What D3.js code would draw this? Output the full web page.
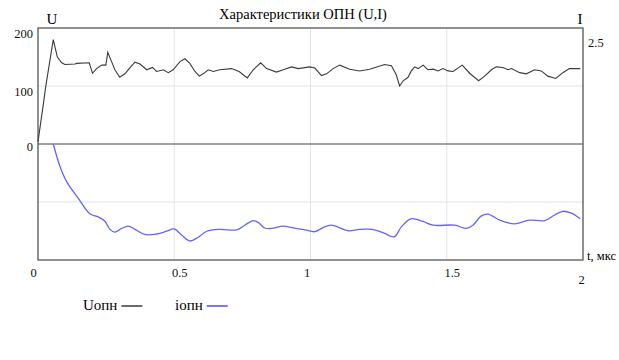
<!DOCTYPE html>
<html><head><meta charset="utf-8">
<script src="https://cdn.jsdelivr.net/npm/d3@7"></script>
<style>
body{margin:0;background:#fff;}
text{font-family:"Liberation Serif","Times New Roman",serif;}
</style></head>
<body><svg id="c" width="619" height="360"></svg>
<script>
const uT = [0,0.02,0.028,0.056,0.071,0.087,0.099,0.136,0.142,0.188,0.2,0.215,0.234,0.249,0.256,0.27,0.282,0.3,0.319,0.34,0.356,0.374,0.399,0.42,0.435,0.46,0.478,0.496,0.521,0.539,0.557,0.576,0.592,0.606,0.625,0.643,0.667,0.71,0.738,0.768,0.79,0.817,0.839,0.875,0.9,0.93,0.955,0.997,1.016,1.04,1.059,1.083,1.107,1.144,1.18,1.217,1.272,1.297,1.315,1.327,1.34,1.358,1.37,1.382,1.395,1.413,1.431,1.45,1.468,1.486,1.505,1.523,1.557,1.584,1.617,1.639,1.664,1.682,1.706,1.725,1.737,1.768,1.792,1.822,1.847,1.871,1.9,1.926,1.95,1.99];
const uV = [4,70,98,180,150,140,137,138,139,140,122,130,136,136,158,142,128,115,121,133,141,138,128,132,125,128,123,128,142,147,139,125,117,121,128,125,128,130,125,114,128,140,130,124,128,133,130,133,131,118,121,130,136,129,126,129,137,135,119,100,109,115,126,133,130,136,128,129,126,130,126,125,136,122,109,117,128,133,132,128,130,123,121,128,126,117,113,123,130,130];
const iT = [0.056,0.081,0.105,0.148,0.191,0.221,0.246,0.264,0.282,0.307,0.331,0.356,0.392,0.435,0.472,0.499,0.527,0.557,0.588,0.619,0.667,0.729,0.759,0.79,0.808,0.832,0.857,0.9,0.936,0.979,1.016,1.046,1.077,1.138,1.18,1.224,1.266,1.307,1.334,1.37,1.413,1.45,1.529,1.572,1.596,1.627,1.651,1.694,1.749,1.804,1.859,1.896,1.926,1.957,1.99];
const iV = [0,-0.49,-0.81,-1.17,-1.51,-1.57,-1.67,-1.84,-1.90,-1.82,-1.77,-1.84,-1.95,-1.94,-1.88,-1.83,-1.96,-2.09,-2.01,-1.88,-1.84,-1.85,-1.75,-1.65,-1.69,-1.81,-1.82,-1.77,-1.81,-1.85,-1.89,-1.80,-1.75,-1.87,-1.84,-1.84,-1.91,-2.0,-1.78,-1.61,-1.67,-1.75,-1.75,-1.82,-1.75,-1.55,-1.51,-1.64,-1.72,-1.64,-1.65,-1.53,-1.45,-1.49,-1.61];
const xTicks = [0,0.5,1,1.5,2];
const xTickLabels = ["0","0.5","1","1.5","2"];
const uTicks = [0,100,200];
const iTicks = [2.5];
const title = "Характеристики ОПН (U,I)";
const legendLabels = ["Uопн","iопн"];

const svg = d3.select("#c");
const L=38, R=583, T=28, B=260;
const x = d3.scaleLinear().domain([0,2]).range([L,R]);
const yU = d3.scaleLinear().domain([-200,200]).range([B,T]);
const yI = d3.scaleLinear().domain([-2.5,2.5]).range([B,T]);

// grid
const g = svg.append("g");
g.selectAll("line.vx").data([0.5,1,1.5]).join("line")
 .attr("x1",d=>x(d)).attr("x2",d=>x(d)).attr("y1",T).attr("y2",B)
 .attr("stroke","#e3e3e3").attr("stroke-width",1);
g.selectAll("line.hy").data([100,-100]).join("line")
 .attr("x1",L).attr("x2",R).attr("y1",d=>yU(d)).attr("y2",d=>yU(d))
 .attr("stroke","#e3e3e3").attr("stroke-width",1);
g.append("line").attr("x1",L).attr("x2",R).attr("y1",yU(0)).attr("y2",yU(0))
 .attr("stroke","#444").attr("stroke-width",1);
svg.append("rect").attr("x",L).attr("y",T).attr("width",R-L).attr("height",B-T)
 .attr("fill","none").attr("stroke","#555").attr("stroke-width",1.3);

const uData = uT.map((t,i)=>[t,uV[i]]);
const iData = iT.map((t,i)=>[t,iV[i]]);
svg.append("path").datum(uData)
 .attr("d",d3.line().x(d=>x(d[0])).y(d=>yU(d[1])))
 .attr("fill","none").attr("stroke","#3a3a3a").attr("stroke-width",1.1);
svg.append("path").datum(iData)
 .attr("d",d3.line().curve(d3.curveCatmullRom).x(d=>x(d[0])).y(d=>yI(d[1])))
 .attr("fill","none").attr("stroke","#6464ff").attr("stroke-width",1.3);

const axL = svg.append("g").attr("transform",`translate(${L},0)`)
 .call(d3.axisLeft(yU).tickValues(uTicks).tickSize(0).tickPadding(5));
axL.select(".domain").remove();
axL.selectAll("text").attr("font-size",12.5).attr("fill","#111")
 .attr("dy",d=> d===0 ? "0.55em" : "0.75em");

const axR = svg.append("g").attr("transform",`translate(${R},0)`)
 .call(d3.axisRight(yI).tickValues(iTicks).tickSize(0).tickPadding(5).tickFormat(d3.format(".1f")));
axR.select(".domain").remove();
axR.selectAll("text").attr("font-size",12.5).attr("fill","#111").attr("dy","1.45em");

const xdx = [-5,5,-4,5,-2];
const axB = svg.append("g").attr("transform",`translate(0,${B})`)
 .call(d3.axisBottom(x).tickValues(xTicks).tickSize(0).tickPadding(8).tickFormat((d,i)=>xTickLabels[i]));
axB.select(".domain").remove();
axB.selectAll("text").attr("font-size",12.5).attr("fill","#111")
 .attr("dx",(d,i)=>xdx[i])
 .attr("dy",(d,i)=> i===xTicks.length-1 ? "1.3em" : "0.71em");

svg.append("text").attr("x",303).attr("y",19).attr("text-anchor","middle")
 .attr("font-size",14.5).attr("fill","#000").text(title);
svg.append("text").attr("x",52).attr("y",24).attr("text-anchor","middle")
 .attr("font-size",15).attr("fill","#000").text("U");
svg.append("text").attr("x",580).attr("y",24).attr("text-anchor","middle")
 .attr("font-size",15).attr("fill","#000").text("I");
svg.append("text").attr("x",587).attr("y",260).attr("font-size",12.5).attr("fill","#000").text("t, мкс");

const colors = ["#3a3a3a","#4a4aff"];
const lx = [83,175];
legendLabels.forEach((lab,i)=>{
  const t = svg.append("text").attr("x",lx[i]).attr("y",310).attr("font-size",15).attr("fill","#000").text(lab);
  const w = t.node().getComputedTextLength();
  svg.append("line").attr("x1",lx[i]+w+4).attr("x2",lx[i]+w+25).attr("y1",306).attr("y2",306)
   .attr("stroke",colors[i]).attr("stroke-width",1.5);
});
</script></body></html>
